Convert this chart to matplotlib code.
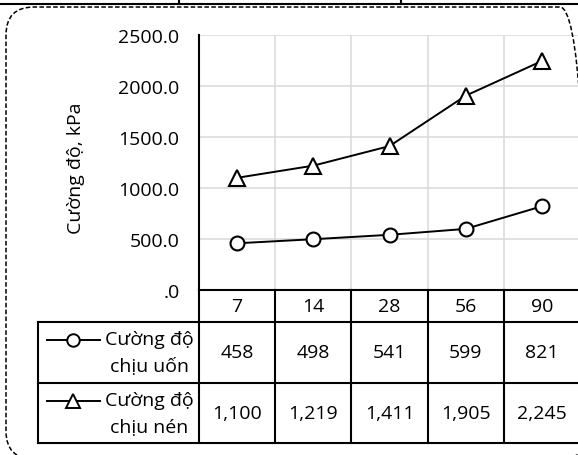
import matplotlib.pyplot as plt
from matplotlib.lines import Line2D
from matplotlib.patches import FancyBboxPatch
from matplotlib.transforms import IdentityTransform, blended_transform_factory

plt.rcParams['font.family'] = ['Open Sans', 'DejaVu Sans']

# Dữ liệu
days = ['7', '14', '28', '56', '90']
uon = [458, 498, 541, 599, 821]          # Cường độ chịu uốn
nen = [1100, 1219, 1411, 1905, 2245]     # Cường độ chịu nén
yticks = [0, 500, 1000, 1500, 2000, 2500]
ytick_labels = ['.0', '500.0', '1000.0', '1500.0', '2000.0', '2500.0']

W, H = 578, 456
FS = 14
fig = plt.figure(figsize=(W / 100, H / 100), dpi=100)


def fx(x):
    return x / W


def fy(y):
    return 1 - y / H


# vùng đồ thị (tính theo pixel)
ax = fig.add_axes([fx(199), fy(291), fx(381), 255 / H])
x = list(range(len(days)))
ax.plot(x, nen, color='black', lw=1.4, marker='^', ms=11, mfc='white', mec='black', mew=1.5, zorder=3)
ax.plot(x, uon, color='black', lw=1.4, marker='o', ms=10, mfc='white', mec='black', mew=1.5, zorder=3)
ax.set_xlim(-0.5, len(days) - 0.5)
ax.set_ylim(0, 2500)
ax.set_yticks(yticks)
ax.set_yticklabels(ytick_labels, fontsize=FS)
ax.set_xticks([])
ax.tick_params(axis='y', length=0, pad=14)
for yv in yticks[1:]:
    ax.axhline(yv, color='#d9d9d9', lw=1.1, zorder=1)
for i in range(1, len(days)):
    ax.axvline(i - 0.5, color='#d9d9d9', lw=1.1, zorder=1)
for s in ['top', 'right']:
    ax.spines[s].set_visible(False)
ax.spines['left'].set_linewidth(1.5)
ax.spines['bottom'].set_linewidth(1.5)

fig.text(fx(76), fy(168), 'Cường độ, kPa', rotation=90, ha='center', va='center', fontsize=FS)

# bảng dữ liệu
tr = blended_transform_factory(ax.transData, fig.transFigure)
lw_t = 1.5
for yy in [323, 384, 444]:
    fig.add_artist(Line2D([fx(38), 1.0], [fy(yy), fy(yy)], color='black', lw=lw_t, transform=fig.transFigure))
fig.add_artist(Line2D([fx(38), fx(38)], [fy(323), fy(444)], color='black', lw=lw_t, transform=fig.transFigure))
fig.add_artist(Line2D([fx(199), fx(199)], [fy(291), fy(444)], color='black', lw=lw_t, transform=fig.transFigure))
for i in range(1, len(days)):
    fig.add_artist(Line2D([i - 0.5, i - 0.5], [fy(291), fy(444)], color='black', lw=lw_t, transform=tr))

for i, d in enumerate(days):
    fig.text(i, fy(307), d, transform=tr, ha='center', va='center', fontsize=FS)
    fig.text(i, fy(353), f'{uon[i]:,}', transform=tr, ha='center', va='center', fontsize=FS)
    fig.text(i, fy(414), f'{nen[i]:,}', transform=tr, ha='center', va='center', fontsize=FS)

# chú thích trong cột đầu
for yy, mk, ms, l1, l2 in [(341, 'o', 9, 'Cường độ', 'chịu uốn'), (402, '^', 10, 'Cường độ', 'chịu nén')]:
    fig.add_artist(Line2D([fx(47), fx(73), fx(100)], [fy(yy)] * 3, color='black', lw=1.4,
                          marker=mk, markevery=[1], ms=ms, mfc='white', mec='black', mew=1.4,
                          transform=fig.transFigure))
    fig.text(fx(149), fy(yy - 1), l1, ha='center', va='center', fontsize=FS)
    fig.text(fx(149), fy(yy + 26), l2, ha='center', va='center', fontsize=FS)

# khung viền nét đứt và đường phía trên
idt = IdentityTransform()
fig.add_artist(FancyBboxPatch((6, H - 460), 582, 460 - 8, boxstyle='round,pad=0,rounding_size=28',
                              fill=False, ec='black', lw=1.1, ls=(0, (3, 1.5)), transform=idt))
fig.add_artist(Line2D([0, W], [H - 5, H - 5], color='black', lw=1.5, transform=idt))
for xx in [179, 401]:
    fig.add_artist(Line2D([xx, xx], [H - 5, H + 2], color='black', lw=1.5, transform=idt))

fig.savefig('out.png', dpi=100)
